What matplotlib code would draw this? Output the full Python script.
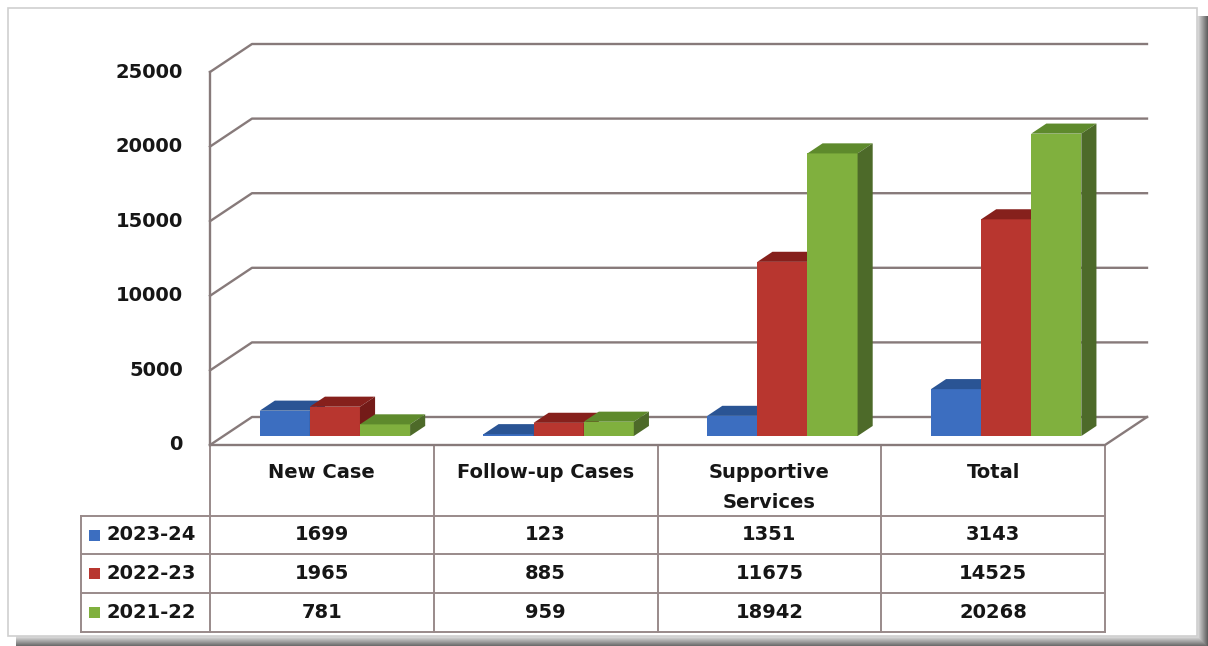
import matplotlib
matplotlib.use("Agg")
import matplotlib.pyplot as plt
import matplotlib.transforms as mtransforms
from matplotlib.patches import Polygon, Rectangle

# Data
categories = ["New Case", "Follow-up Cases", "Supportive\nServices", "Total"]
years = ["2023-24", "2022-23", "2021-22"]
vals_2023_24 = [1699, 123, 1351, 3143]
vals_2022_23 = [1965, 885, 11675, 14525]
vals_2021_22 = [781, 959, 18942, 20268]
y_ticks = [0, 5000, 10000, 15000, 20000, 25000]

series = [vals_2023_24, vals_2022_23, vals_2021_22]
front_cols = ["#3C6EC0", "#B8362F", "#80B03E"]
top_cols = ["#2A5494", "#86201C", "#5E8A2C"]
side_cols = ["#22467E", "#741B18", "#4D6A29"]

grid_col = "#877a7a"
table_col = "#998a8a"
txt_col = "#161616"
font = dict(family="DejaVu Sans", weight="bold", size=14, color=txt_col)

W, H = 1208, 646
fig = plt.figure(figsize=(W / 100, H / 100), dpi=100)

# background axes in pixel coordinates (frame, table, labels)
bg = fig.add_axes([0, 0, 1, 1])
bg.set_xlim(0, W)
bg.set_ylim(H, 0)
bg.axis("off")

# frame with a soft shadow at right and bottom
for k in range(11):
    g = 0.88 - k * 0.05
    bg.add_patch(Rectangle((1197 + k, 16), 1, H - 16, color=(g, g, g), lw=0))
    bg.add_patch(Rectangle((16, 636 + k), W - 16, 1, color=(g, g, g), lw=0))
bg.add_patch(Rectangle((8, 8), 1189, 628, facecolor="white", edgecolor="#cfcfcf", lw=1.2))

# plot region (front plane of the 3D box)
x0px, x1px, ybase, ytop = 210, 1105, 445, 72
ax = fig.add_axes([x0px / W, 1 - ybase / H, (x1px - x0px) / W, (ybase - ytop) / H])
ax.set_xlim(0, len(categories))
ax.set_ylim(0, 25000)
ax.axis("off")
ax.patch.set_alpha(0)

# depth of the box expressed in data units
DX = 42 * len(categories) / (x1px - x0px)
DY = 28 * 25000 / (ybase - ytop)
ncat = len(categories)

# side wall diagonals + back wall gridlines
ax.plot([0, 0], [0, 25000], color=grid_col, lw=1.7, clip_on=False, zorder=1)
for v in y_ticks:
    ax.plot([0, DX, ncat + DX], [v, v + DY, v + DY], color=grid_col, lw=1.7,
            clip_on=False, zorder=1)
# floor front edge and right edge
ax.plot([0, ncat, ncat + DX], [0, 0, DY], color=grid_col, lw=1.7, clip_on=False, zorder=1)

# 3D-looking columns
w = 0.224
bx, by = 0.31 * DX, 0.32 * DY
dx, dy = 0.36 * DX, 0.36 * DY
for i in range(ncat):
    for j, vals in enumerate(series):
        v = vals[i]
        x = i + 0.5 - 1.5 * w + j * w + bx
        ax.bar(x, v, width=w, bottom=by, align="edge", color=front_cols[j],
               lw=0, zorder=3 + j, clip_on=False)
        top = [(x, by + v), (x + w, by + v), (x + w + dx, by + v + dy), (x + dx, by + v + dy)]
        side = [(x + w, by), (x + w + dx, by + dy), (x + w + dx, by + v + dy), (x + w, by + v)]
        ax.add_patch(Polygon(top, closed=True, color=top_cols[j], lw=0, zorder=3 + j, clip_on=False))
        ax.add_patch(Polygon(side, closed=True, color=side_cols[j], lw=0, zorder=3 + j, clip_on=False))

# y tick labels
ty = mtransforms.blended_transform_factory(bg.transData, ax.transData)
for v in y_ticks:
    bg.text(183, v, str(v), transform=ty, ha="right", va="center", **font)

# data table under the chart
tx = mtransforms.blended_transform_factory(ax.transData, bg.transData)
row_y = [516, 554, 593, 632]
for i in range(ncat + 1):
    bg.plot([i, i], [445, 632], transform=tx, color=table_col, lw=1.4)
bg.plot([81, 81], [516, 632], color=table_col, lw=1.4)
for yy in row_y:
    bg.plot([81, x1px], [yy, yy], color=table_col, lw=1.4)

for i, cat in enumerate(categories):
    for k, line in enumerate(cat.split("\n")):
        bg.text(i + 0.5, 472 + k * 31, line, transform=tx, ha="center", va="center", **font)

for j, (yr, vals) in enumerate(zip(years, series)):
    yc = (row_y[j] + row_y[j + 1]) / 2
    bg.add_patch(Rectangle((89, yc - 5.5), 11, 11, color=front_cols[j], lw=0))
    bg.text(107, yc, yr, ha="left", va="center", **font)
    for i, v in enumerate(vals):
        bg.text(i + 0.5, yc, str(v), transform=tx, ha="center", va="center", **font)

fig.savefig("out.png", dpi=100)
